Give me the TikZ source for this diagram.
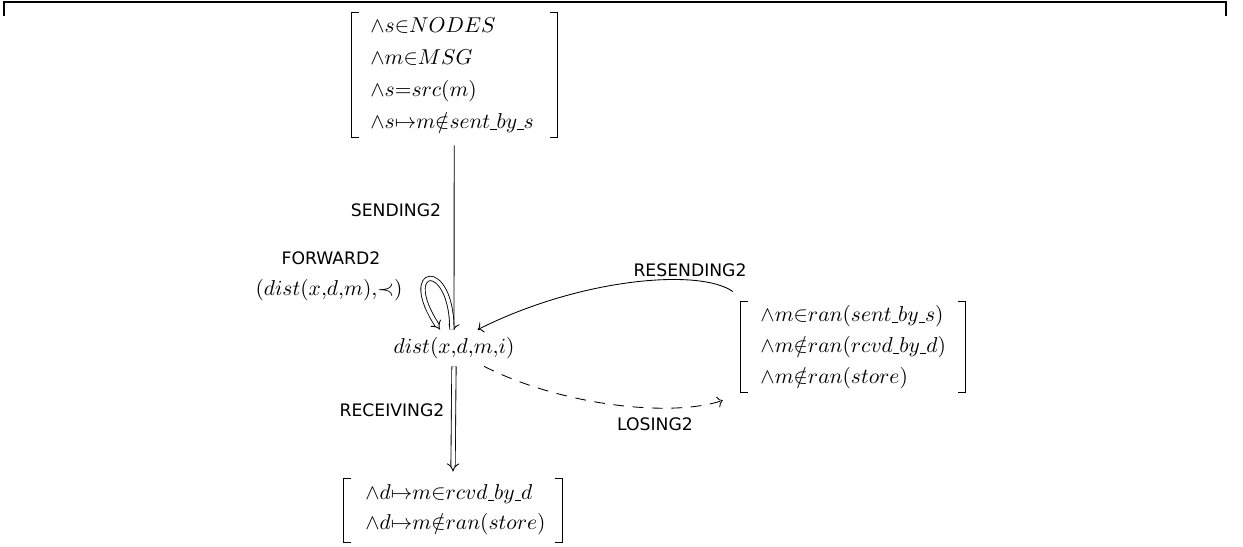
\documentclass[tikz,border=0pt]{standalone}
\usepackage{amsmath,amssymb}
\usepackage{fontspec}
\setsansfont{DejaVu Sans}
\usetikzlibrary{arrows.meta}

% tight underscore inside names
\newcommand\usc{\mbox{\kern0.1pt\rule[-0.5pt]{2.8pt}{0.4pt}\kern0.1pt}}

% brackets round a condition node
\newcommand\condbrackets[1]{%
  \draw ([xshift=3.7pt]#1.north west) -- (#1.north west) -- (#1.south west) -- ([xshift=3.7pt]#1.south west);
  \draw ([xshift=-3.7pt]#1.north east) -- (#1.north east) -- (#1.south east) -- ([xshift=-3.7pt]#1.south east);}

\tikzset{
  cond/.style={align=left, anchor=west, inner ysep=0pt},
  lbl/.style={font=\sffamily\fontsize{8}{9.6}\selectfont},
  dbl/.style={double, double distance=1.6pt, -{Implies}},
}

\begin{document}
\begin{tikzpicture}[x=0.465pt, y=-0.465pt]
    \useasboundingbox (0,0) rectangle (1243,547);

    % Frame
    \draw[line width=0.8pt] (4,16) -- (4,2) -- (1226,2) -- (1226,16);

    % Conditions
    \node[cond, inner xsep=8.8pt, text width=78pt, minimum height=57.7pt,
          font=\fontsize{10}{14.9}\selectfont] (sendpre) at (351,75)
      {$\wedge s{\in}NODES$\\ $\wedge m{\in}MSG$\\ $\wedge s{=}src(m)$\\ $\wedge s{\mapsto}m{\notin}sent\usc by\usc s$};
    \node[cond, inner xsep=9.3pt, text width=86pt, minimum height=41.9pt,
          font=\fontsize{10}{14.4}\selectfont] (resendpre) at (740,347)
      {$\wedge m{\in}ran(sent\usc by\usc s)$\\ $\wedge m{\notin}ran(rcvd\usc by\usc d)$\\ $\wedge m{\notin}ran(store)$};
    \node[cond, inner xsep=10.2pt, text width=81.4pt, minimum height=29.3pt,
          font=\fontsize{10}{14}\selectfont] (recvpost) at (343,510)
      {$\wedge d{\mapsto}m{\in}rcvd\usc by\usc d$\\ $\wedge d{\mapsto}m{\notin}ran(store)$};
    \condbrackets{sendpre}
    \condbrackets{resendpre}
    \condbrackets{recvpost}

    % State
    \node[inner sep=3.33pt] (dist) at (454,348) {$dist(x{,}d{,}m{,}i)$};

    % Arrows
    \draw[->, shorten <=3.7pt] (sendpre.south) -- (dist.north);
    \draw[dbl] ([xshift=-1pt]dist.north) .. controls (452,258) and (398,266) .. ([xshift=-6.5pt]dist.north);
    \draw[dbl, shorten >=3pt] (dist.south) -- (recvpost.north);
    \draw[->] ([shift={(-3.3pt,4.6pt)}]resendpre.north west) .. controls (700,268) and (580,278) .. ([xshift=11pt]dist.north);
    \draw[->, dash pattern=on 5pt off 4pt] ([xshift=14pt]dist.south) .. controls (560,405) and (670,418) .. ([shift={(-8pt,-3.7pt)}]resendpre.south west);

    % Labels
    \node[lbl] (sendlbl) at (396,210) {SENDING2};
    \node[lbl] (fwdlbl) at (331,258) {FORWARD2};
    \node (fwdcond) at (329,290) {$(dist(x{,}d{,}m){,}{\prec})$};
    \node[lbl] (resendlbl) at (690,270) {RESENDING2};
    \node[lbl] (loselbl) at (655,424) {LOSING2};
    \node[lbl] (recvlbl) at (392,410) {RECEIVING2};
\end{tikzpicture}
\end{document}
